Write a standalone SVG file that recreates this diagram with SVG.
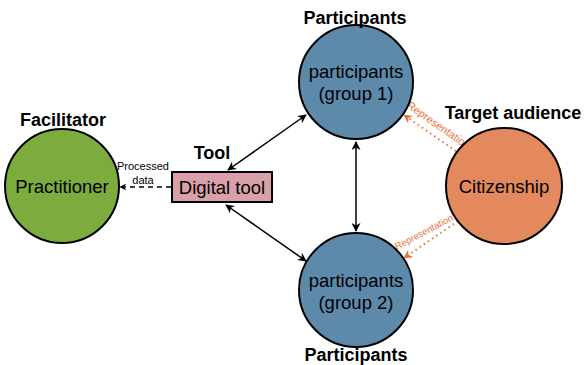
<svg xmlns="http://www.w3.org/2000/svg" width="584" height="365" viewBox="0 0 584 365">
<defs>
<style>
.node{stroke:#000;stroke-width:2}
.lbl{font-family:"Liberation Sans",Arial,sans-serif;font-size:18.5px;fill:#000;text-anchor:middle}
.ttl{font-family:"Liberation Sans",Arial,sans-serif;font-size:18px;font-weight:bold;fill:#000;text-anchor:middle}
.sm{font-family:"Liberation Sans",Arial,sans-serif;font-size:11px;fill:#000;text-anchor:middle}
.rep{font-family:"Liberation Sans",Arial,sans-serif;font-size:11px;fill:#e8743b;text-anchor:start}
.edge{stroke:#000;stroke-width:1.5;fill:none}
.repl{stroke:#e8743b;stroke-width:2;stroke-dasharray:1.5 3.5;fill:none}
</style>
<marker id="ah" viewBox="0 0 10 10" refX="9" refY="5" markerWidth="9" markerHeight="9" orient="auto-start-reverse" markerUnits="userSpaceOnUse"><path d="M0,0 L10,5 L0,10 L3,5 z" fill="#000"/></marker>
<marker id="ahs" viewBox="0 0 10 10" refX="9" refY="5" markerWidth="7" markerHeight="7" orient="auto" markerUnits="userSpaceOnUse"><path d="M0,0 L10,5 L0,10 L3,5 z" fill="#000"/></marker>
<marker id="aho" viewBox="0 0 10 10" refX="9" refY="5" markerWidth="9" markerHeight="9" orient="auto" markerUnits="userSpaceOnUse"><path d="M0,0 L10,5 L0,10 L3,5 z" fill="#e8743b"/></marker>
</defs>
<g id="connectors">
<line class="edge" x1="228" y1="170" x2="306" y2="115" marker-start="url(#ah)" marker-end="url(#ah)"/>
<line class="edge" x1="226" y1="205" x2="306" y2="261" marker-start="url(#ah)" marker-end="url(#ah)"/>
<line class="edge" x1="356" y1="142" x2="356" y2="231" marker-start="url(#ah)" marker-end="url(#ah)"/>
<line class="edge" x1="171" y1="187" x2="120" y2="187" stroke-dasharray="5 4" marker-end="url(#ahs)"/>
<text class="sm" x="143" y="170">Processed</text>
<text class="sm" x="143" y="184">data</text>
<line class="repl" x1="460" y1="154" x2="404" y2="115" marker-end="url(#aho)"/>
<text class="rep" transform="translate(406,107) rotate(35)">Representation</text>
<line class="repl" x1="458" y1="221" x2="404" y2="258" marker-end="url(#aho)"/>
<text class="rep" style="font-size:9.5px" transform="translate(397,250) rotate(-28)">Representation</text>
</g>
<g id="practitioner">
<circle class="node" cx="62" cy="186" r="57" fill="#7cab3e"/>
<text class="lbl" x="62" y="193">Practitioner</text>
<text class="ttl" x="63" y="126">Facilitator</text>
</g>
<g id="tool">
<rect class="node" x="172" y="172" width="100" height="30" fill="#d8a1aa"/>
<text class="lbl" x="222" y="194">Digital tool</text>
<text class="ttl" x="212" y="159">Tool</text>
</g>
<g id="group1">
<circle class="node" cx="356" cy="82" r="57" fill="#5d89ab"/>
<text class="lbl" x="356" y="78">participants</text>
<text class="lbl" x="356" y="100">(group 1)</text>
<text class="ttl" x="355" y="24">Participants</text>
</g>
<g id="group2">
<circle class="node" cx="356" cy="290" r="57" fill="#5d89ab"/>
<text class="lbl" x="356" y="287">participants</text>
<text class="lbl" x="356" y="309">(group 2)</text>
<text class="ttl" x="356" y="361">Participants</text>
</g>
<g id="citizenship">
<circle class="node" cx="504" cy="186" r="58" fill="#e4885d"/>
<text class="lbl" x="504" y="193">Citizenship</text>
<text class="ttl" x="513" y="119">Target audience</text>
</g>
</svg>
